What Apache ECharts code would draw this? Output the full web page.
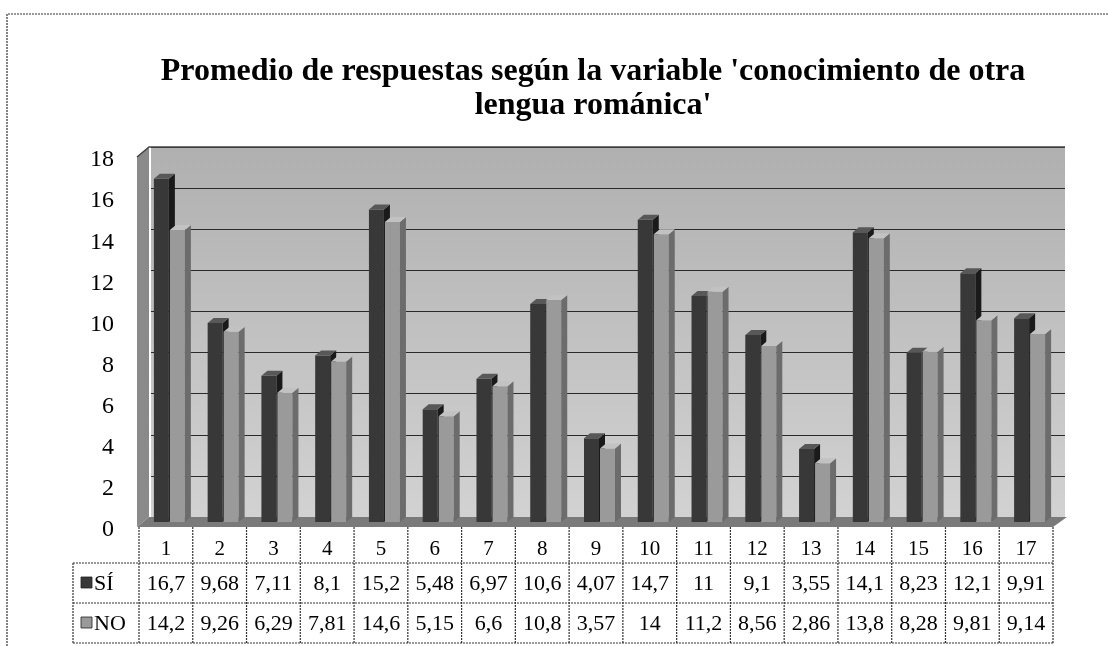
<!DOCTYPE html>
<html>
<head>
    <meta charset="utf-8" />
    <title></title>
    <script src="https://cdn.jsdelivr.net/npm/echarts@6/dist/echarts.min.js"></script>
    <style>
        * { margin: 0; padding: 0; box-sizing: border-box; }
        body { background: #fff; }
        #chart { width: 1108px; height: 646px; }
    </style>
</head>
<body>
    <div id="chart"></div>

    <script>
        // datos
        const categories = ['1', '2', '3', '4', '5', '6', '7', '8', '9', '10', '11', '12', '13', '14', '15', '16', '17'];
        const si = [16.7, 9.68, 7.11, 8.1, 15.2, 5.48, 6.97, 10.6, 4.07, 14.7, 11, 9.1, 3.55, 14.1, 8.23, 12.1, 9.91];
        const no = [14.2, 9.26, 6.29, 7.81, 14.6, 5.15, 6.6, 10.8, 3.57, 14, 11.2, 8.56, 2.86, 13.8, 8.28, 9.81, 9.14];
        const seriesNames = ['SÍ', 'NO'];

        const chartDom = document.getElementById('chart');
        const myChart = echarts.init(chartDom);

        // plano frontal y desplazamiento de profundidad
        const L = 139, R = 1053, TOP = 157, BASE = 527;
        const DX = 12, DY = -10;
        const serif = "'Liberation Serif', 'Times New Roman', serif";

        const colors = [
            { front: '#383838', side: '#1a1a1a', top: '#585858' },
            { front: '#9a9a9a', side: '#6c6c6c', top: '#c2c2c2' }
        ];

        function bar3D(offset, c) {
            return function (params, api) {
                const i = api.value(0), v = api.value(1);
                const base = api.coord([i, 0]), top = api.coord([i, v]);
                const x = base[0] + offset, yb = base[1] - 8, yt = top[1] - 8;
                const w = 15, d = 6, e = 5;
                return {
                    type: 'group',
                    children: [
                        { type: 'rect', shape: { x: x, y: yt, width: w, height: yb - yt }, style: { fill: c.front } },
                        { type: 'polygon', shape: { points: [[x + w, yt], [x + w + d, yt - e], [x + w + d, yb - e], [x + w, yb]] }, style: { fill: c.side } },
                        { type: 'polygon', shape: { points: [[x, yt], [x + d, yt - e], [x + w + d, yt - e], [x + w, yt]] }, style: { fill: c.top } }
                    ]
                };
            };
        }

        const option = {
            animation: false,
            title: {
                text: "Promedio de respuestas según la variable 'conocimiento de otra\nlengua románica'",
                left: 588,
                textAlign: 'center',
                top: 50,
                textStyle: { fontFamily: serif, fontSize: 32, fontWeight: 'bold', color: '#000', lineHeight: 34 }
            },
            grid: [
                { left: L, right: 1108 - R, top: 160, bottom: 116 },
                // pared del fondo
                {
                    left: L + DX, right: 1108 - R - DX, top: TOP + DY, bottom: 646 - BASE - DY,
                    show: true, borderWidth: 0,
                    backgroundColor: new echarts.graphic.LinearGradient(0, 0, 0, 1, [
                        { offset: 0, color: '#b0b0b0' },
                        { offset: 1, color: '#d2d2d2' }
                    ])
                }
            ],
            xAxis: [
                { type: 'category', data: categories, gridIndex: 0, show: false },
                { type: 'category', data: categories, gridIndex: 1, show: false }
            ],
            yAxis: [
                {
                    type: 'value', gridIndex: 0, min: 0, max: 18, interval: 2,
                    axisLine: { show: false }, axisTick: { show: false }, splitLine: { show: false },
                    axisLabel: { margin: 25, color: '#000', fontFamily: serif, fontSize: 24 }
                },
                {
                    type: 'value', gridIndex: 1, min: 0, max: 18, interval: 2,
                    axisLine: { show: false }, axisTick: { show: false }, axisLabel: { show: false },
                    splitLine: { lineStyle: { color: '#2a2a2a', width: 1.2 } }
                }
            ],
            series: [
                {
                    name: seriesNames[0], type: 'custom', xAxisIndex: 0, yAxisIndex: 0, z: 5,
                    data: si.map((v, i) => [i, v]),
                    renderItem: bar3D(-12, colors[0])
                },
                {
                    name: seriesNames[1], type: 'custom', xAxisIndex: 0, yAxisIndex: 0, z: 6,
                    data: no.map((v, i) => [i, v]),
                    renderItem: bar3D(4, colors[1])
                }
            ]
        };

        myChart.setOption(option);

        // paredes laterales, suelo y tabla de datos
        const band = (R - L) / categories.length;
        const line = { stroke: '#333', lineWidth: 1.2, lineDash: [2, 1] };
        const g = [];

        // marco exterior
        g.push({ type: 'polyline', shape: { points: [[7, 646], [7, 14], [1108, 14]] }, style: Object.assign({ fill: null }, line) });

        // pared izquierda
        g.push({ type: 'polygon', z: 1, shape: { points: [[L - 2, TOP], [L - 2 + DX, TOP + DY], [L - 2 + DX, BASE + DY], [L - 2, BASE]] }, style: { fill: '#8a8a8a' } });
        // suelo
        g.push({ type: 'polygon', z: 1, shape: { points: [[L - 2, BASE], [L - 2 + DX, BASE + DY], [R + DX + 2, BASE + DY], [R, BASE]] }, style: { fill: '#7a7a7a' } });
        // borde superior
        g.push({ type: 'polyline', z: 1, shape: { points: [[L - 2, TOP], [L - 2 + DX, TOP + DY], [R + DX, TOP + DY]] }, style: { stroke: '#444', lineWidth: 1.5, fill: null } });

        const rowY = [BASE, 563, 603, 643];
        // filas de valores (con columna de leyenda)
        for (let r = 1; r < rowY.length; r++) {
            g.push({ type: 'line', shape: { x1: 73, y1: rowY[r], x2: R, y2: rowY[r] }, style: line });
        }
        g.push({ type: 'line', shape: { x1: 73, y1: rowY[1], x2: 73, y2: rowY[3] }, style: line });
        for (let i = 0; i <= categories.length; i++) {
            const x = L + i * band;
            g.push({ type: 'line', shape: { x1: x, y1: rowY[0], x2: x, y2: rowY[3] }, style: line });
        }
        categories.forEach((c, i) => {
            const cx = L + (i + 0.5) * band;
            g.push({ type: 'text', style: { text: c, x: cx, y: 549, align: 'center', verticalAlign: 'middle', font: '21px ' + serif, fill: '#000' } });
            g.push({ type: 'text', style: { text: String(si[i]).replace('.', ','), x: cx, y: 584, align: 'center', verticalAlign: 'middle', font: '22px ' + serif, fill: '#000' } });
            g.push({ type: 'text', style: { text: String(no[i]).replace('.', ','), x: cx, y: 624, align: 'center', verticalAlign: 'middle', font: '22px ' + serif, fill: '#000' } });
        });
        seriesNames.forEach((n, r) => {
            const cy = r === 0 ? 583 : 623;
            g.push({ type: 'rect', shape: { x: 81, y: cy - 6, width: 11, height: 11 }, style: { fill: colors[r].front, stroke: '#222', lineWidth: 0.8 } });
            g.push({ type: 'text', style: { text: n, x: 94, y: cy + 1, align: 'left', verticalAlign: 'middle', font: '22px ' + serif, fill: '#000' } });
        });

        myChart.setOption({ graphic: g });
    </script>
</body>
</html>
